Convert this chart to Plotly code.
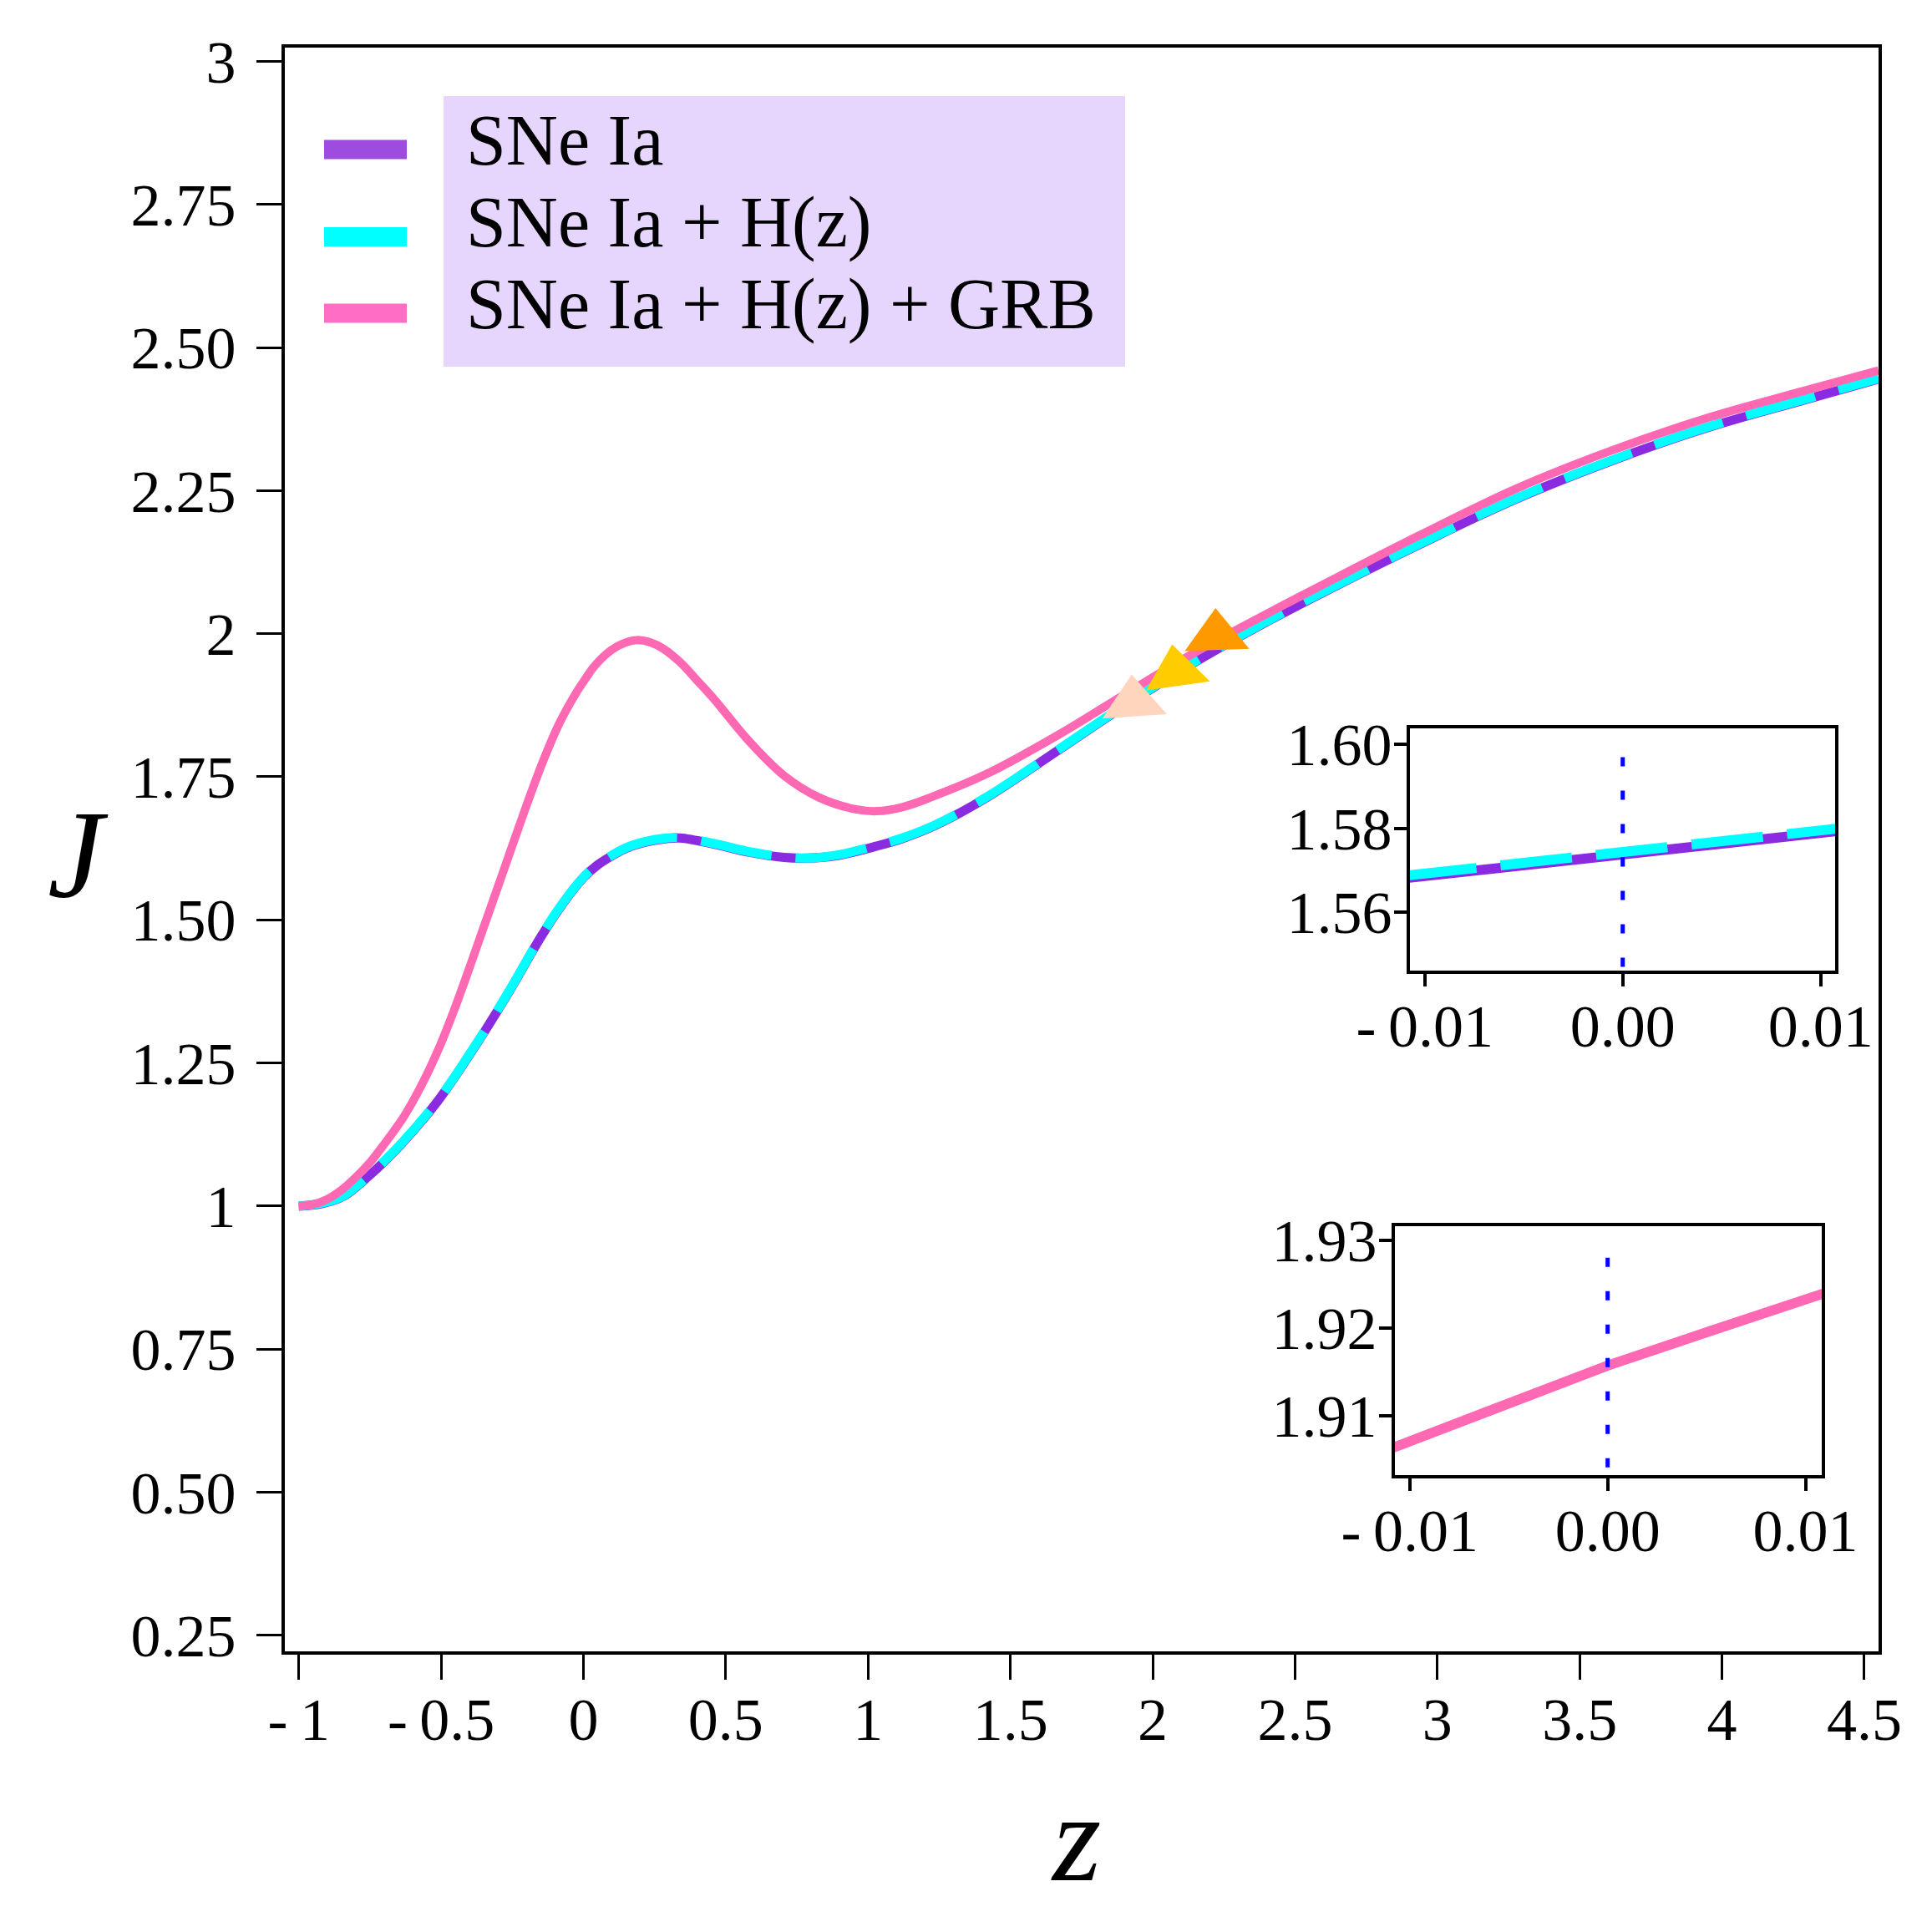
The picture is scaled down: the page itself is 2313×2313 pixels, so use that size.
import plotly.graph_objects as go

# J(z)
z_grb = [-1.0, -0.95, -0.90, -0.85, -0.80, -0.75, -0.70, -0.63, -0.57, -0.51, -0.45, -0.39,
         -0.33, -0.27, -0.21, -0.146, -0.085, -0.025, 0.0, 0.04, 0.097, 0.145, 0.19, 0.235, 0.28,
         0.34, 0.40, 0.462, 0.584, 0.705, 0.827, 0.949, 1.031, 1.12, 1.22, 1.421, 1.664, 1.908,
         2.151, 2.394, 2.638, 2.938, 3.275, 3.612, 3.949, 4.286, 4.55]
j_grb = [1.000, 1.003, 1.012, 1.028, 1.050, 1.076, 1.108, 1.157, 1.210, 1.273, 1.348, 1.431,
         1.516, 1.601, 1.686, 1.772, 1.843, 1.897, 1.916, 1.944, 1.971, 1.984, 1.989, 1.985, 1.974,
         1.950, 1.918, 1.884, 1.811, 1.752, 1.714, 1.694, 1.690, 1.697, 1.714, 1.756, 1.822, 1.896,
         1.968, 2.033, 2.096, 2.172, 2.253, 2.320, 2.377, 2.424, 2.460]

z_sne = [-1.0, -0.92, -0.843, -0.755, -0.633, -0.511, -0.39, -0.268, -0.146, -0.07, 0.0,
         0.05, 0.097, 0.15, 0.219, 0.292, 0.34, 0.462, 0.584, 0.705, 0.79, 0.888, 1.031, 1.12,
         1.24, 1.421, 1.664, 1.908, 2.151, 2.394, 2.638, 2.938, 3.275, 3.612, 3.949, 4.286, 4.55]
j_sne = [1.000, 1.004, 1.017, 1.052, 1.112, 1.184, 1.272, 1.369, 1.473, 1.530, 1.5739,
         1.596, 1.611, 1.625, 1.636, 1.642, 1.643, 1.632, 1.618, 1.609, 1.608, 1.612, 1.629, 1.642,
         1.666, 1.715, 1.795, 1.876, 1.951, 2.019, 2.082, 2.156, 2.235, 2.302, 2.360, 2.408, 2.445]
j_sne_hz = [1.000, 1.005, 1.018, 1.053, 1.113, 1.185, 1.273, 1.370, 1.474, 1.531, 1.5745,
            1.597, 1.612, 1.626, 1.637, 1.643, 1.644, 1.633, 1.619, 1.610, 1.608, 1.613, 1.630, 1.643,
            1.667, 1.716, 1.796, 1.877, 1.952, 2.020, 2.083, 2.157, 2.236, 2.303, 2.361, 2.409, 2.446]

# arrow heads near z ~ 2
z_heads = [2.224, 2.082, 1.933]
j_heads = [1.996, 1.933, 1.880]
head_colors = ['#FF9900', '#FFCC00', '#FFD5BD']
head_angles = [-2, -8, -4]

# zoom around z = 0
z_zoom = [-0.011, -0.005, 0.0, 0.005, 0.011]
j_zoom_sne = [1.5681, 1.5713, 1.5739, 1.5765, 1.5794]
j_zoom_sne_hz = [1.5687, 1.5719, 1.5745, 1.5771, 1.5800]
j_zoom_grb = [1.9062, 1.9113, 1.9157, 1.9195, 1.9240]
z_mark = [0.0, 0.0]
j_mark_top = [1.547, 1.5976]
j_mark_bottom = [1.9041, 1.9283]

names = ['SNe Ia', 'SNe Ia + H(z)', 'SNe Ia + H(z) + GRB']
line_colors = ['#8A2BE2', '#00FFFF', '#FF69B4']
handle_colors = ['#9E4BE0', '#00FFFF', '#FF6EC4']

x_ticks = [-1, -0.5, 0, 0.5, 1, 1.5, 2, 2.5, 3, 3.5, 4, 4.5]
x_labels = ['-\u20091', '-\u20090.5', '0', '0.5', '1', '1.5', '2', '2.5', '3', '3.5', '4', '4.5']
y_ticks = [0.25, 0.5, 0.75, 1, 1.25, 1.5, 1.75, 2, 2.25, 2.5, 2.75, 3]
y_labels = ['0.25', '0.50', '0.75', '1', '1.25', '1.50', '1.75', '2', '2.25', '2.50', '2.75', '3']
zoom_x_ticks = [-0.01, 0.0, 0.01]
zoom_x_labels = ['-\u20090.01', '0.00', '0.01']

FONT = 'Liberation Serif'
SIZE = 2313
OFF = 8                             # page body margin
L, R, T, B = 341, 2249, 57, 1977    # plot area in window pixels


def px(x):
    return (x - L) / (R - L)


def py(y):
    return (B - y) / (B - T)


fig = go.Figure()

# main panel
fig.add_trace(go.Scatter(x=z_sne, y=j_sne, mode='lines', line=dict(color=line_colors[0], width=11, shape='spline'),
                         name=names[0]))
fig.add_trace(go.Scatter(x=z_sne, y=j_sne_hz, mode='lines',
                         line=dict(color=line_colors[1], width=11, dash='86px,29px', shape='spline'), name=names[1]))
fig.add_trace(go.Scatter(x=z_grb, y=j_grb, mode='lines', line=dict(color=line_colors[2], width=10, shape='spline'),
                         name=names[2]))
fig.add_trace(go.Scatter(x=z_heads, y=j_heads, mode='markers',
                         marker=dict(symbol='triangle-up', size=67, color=head_colors, angle=head_angles,
                                     line=dict(width=0))))

# upper inset
fig.add_trace(go.Scatter(x=z_zoom, y=j_zoom_sne, mode='lines', line=dict(color=line_colors[0], width=12),
                         xaxis='x2', yaxis='y2'))
fig.add_trace(go.Scatter(x=z_zoom, y=j_zoom_sne_hz, mode='lines',
                         line=dict(color=line_colors[1], width=12, dash='86px,29px'), xaxis='x2', yaxis='y2'))
fig.add_trace(go.Scatter(x=z_mark, y=j_mark_top, mode='lines', line=dict(color='#0000FF', width=5, dash='11px,29px'),
                         xaxis='x2', yaxis='y2'))

# lower inset
fig.add_trace(go.Scatter(x=z_zoom, y=j_zoom_grb, mode='lines', line=dict(color=line_colors[2], width=12),
                         xaxis='x3', yaxis='y3'))
fig.add_trace(go.Scatter(x=z_mark, y=j_mark_bottom, mode='lines', line=dict(color='#0000FF', width=5, dash='11px,29px'),
                         xaxis='x3', yaxis='y3'))

axis_common = dict(showline=True, linewidth=4, linecolor='black', mirror=True, showgrid=False, zeroline=False,
                   ticks='outside', tickcolor='black', tickfont=dict(family=FONT, size=72, color='black'),
                   automargin=False)

fig.update_layout(
    width=SIZE - OFF, height=SIZE - OFF,
    margin=dict(l=L - OFF, r=SIZE - R, t=T - OFF, b=SIZE - B),
    paper_bgcolor='white', plot_bgcolor='white',
    showlegend=False,
    font=dict(family=FONT, color='black'),
    xaxis=dict(axis_common, range=[-1.049, 4.55], tickvals=x_ticks, ticktext=x_labels, ticklen=30, tickwidth=3,
               ticklabelstandoff=-14),
    yaxis=dict(axis_common, range=[0.222, 3.024], tickvals=y_ticks, ticktext=y_labels, ticklen=30, tickwidth=3,
               ticklabelstandoff=10),
    xaxis2=dict(axis_common, domain=[px(1688), px(2197)], anchor='y2', range=[-0.01075, 0.01073],
                tickvals=zoom_x_ticks, ticktext=zoom_x_labels, ticklen=15, tickwidth=4, ticklabelstandoff=-14),
    yaxis2=dict(axis_common, domain=[py(1162), py(872)], anchor='x2', range=[1.5461, 1.6038],
                tickvals=[1.56, 1.58, 1.60], ticktext=['1.56', '1.58', '1.60'], ticklen=15, tickwidth=4,
                ticklabelstandoff=-12),
    xaxis3=dict(axis_common, domain=[px(1670), px(2181)], anchor='y3', range=[-0.01075, 0.01082],
                tickvals=zoom_x_ticks, ticktext=zoom_x_labels, ticklen=15, tickwidth=4, ticklabelstandoff=-14),
    yaxis3=dict(axis_common, domain=[py(1765.6), py(1467.6)], anchor='x3', range=[1.90325, 1.93164],
                tickvals=[1.91, 1.92, 1.93], ticktext=['1.91', '1.92', '1.93'], ticklen=15, tickwidth=4,
                ticklabelstandoff=-12),
)

# legend drawn by hand: tinted box behind the labels, thick handles to the left
shapes = [dict(type='rect', xref='paper', yref='paper', x0=px(531), x1=px(1347), y0=py(439), y1=py(115),
               fillcolor='#E6D6FE', line=dict(width=0), layer='above')]
annotations = []
handle_y = [179, 283.5, 375]
text_y = [168, 266, 364]
for name, col, hy, ty in zip(names, handle_colors, handle_y, text_y):
    shapes.append(dict(type='line', xref='paper', yref='paper', x0=px(388), x1=px(487), y0=py(hy), y1=py(hy),
                       line=dict(color=col, width=23)))
    annotations.append(dict(text=name, xref='paper', yref='paper', x=px(556), y=py(ty), xanchor='left',
                            yanchor='middle', showarrow=False, font=dict(family=FONT, size=86, color='black')))

annotations.append(dict(text='<i>z</i>', xref='paper', yref='paper', x=px(1288), y=py(2200), xanchor='center',
                        yanchor='middle', showarrow=False, font=dict(family=FONT, size=150, color='black')))
annotations.append(dict(text='<i>J</i>', xref='paper', yref='paper', x=px(93), y=py(1023), xanchor='center',
                        yanchor='middle', showarrow=False, font=dict(family=FONT, size=150, color='black')))

fig.update_layout(shapes=shapes, annotations=annotations)

fig.write_html('out.html')
